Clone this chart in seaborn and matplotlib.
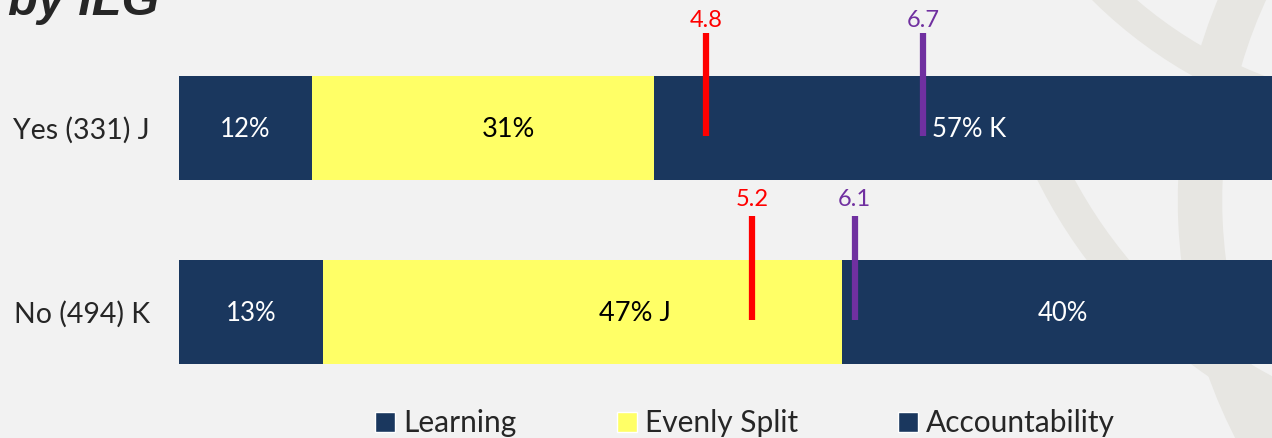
import matplotlib
matplotlib.use("Agg")
import matplotlib.pyplot as plt
from matplotlib.patches import Patch, Arc
import seaborn as sns
import pandas as pd

# data
categories = ["Yes (331) J", "No (494) K"]
learning = [12, 13]
evenly_split = [31, 47]
accountability = [57, 40]
learning_labels = ["12%", "13%"]
evenly_labels = ["31%", "47% J"]
account_labels = ["57% K", "40%"]
red_means = [4.8, 5.2]
purple_means = [6.7, 6.1]
legend_labels = ["Learning", "Evenly Split", "Accountability"]

NAVY = "#1a375e"
YELLOW = "#ffff66"
RED = "#ff0000"
PURPLE = "#7030a0"
BG = "#f2f2f2"
SWIRL = "#e7e6e2"

df = pd.DataFrame({"group": categories, "Learning": learning,
                   "Evenly Split": evenly_split, "Accountability": accountability})
df["cum1"] = df["Learning"]
df["cum2"] = df["cum1"] + df["Evenly Split"]
df["cum3"] = df["cum2"] + df["Accountability"]

sns.set_style("white")
plt.rcParams["font.family"] = ["Lato", "DejaVu Sans"]

W, H = 1272, 438
fig = plt.figure(figsize=(W / 100, H / 100), dpi=100, facecolor=BG)

# faint background swirls
bg = fig.add_axes([0, 0, 1, 1], zorder=0)
bg.set_xlim(0, W)
bg.set_ylim(H, 0)
bg.axis("off")
bg.add_patch(Arc((1420, -330), 900, 900, theta1=110, theta2=175, color=SWIRL, lw=22))
bg.add_patch(Arc((1500, -50), 1000, 1000, theta1=100, theta2=160, color=SWIRL, lw=24))
bg.add_patch(Arc((1700, 200), 1000, 1000, theta1=140, theta2=215, color=SWIRL, lw=32))

# stacked bars (cumulative, drawn largest first)
ax = fig.add_axes([179 / W, 0, 1 - 179 / W, 1], zorder=1)
ax.patch.set_alpha(0)
bar_h = 104 / 183.5
for col, c in [("cum3", NAVY), ("cum2", YELLOW), ("cum1", NAVY)]:
    sns.barplot(data=df, x=col, y="group", color=c, width=bar_h,
                saturation=1, linewidth=0, ax=ax, orient="h")

ax.set_xlim(0, (W - 179) / 11.05)
ax.set_ylim(1.689, -0.6975)

# segment labels
for i in range(len(categories)):
    ax.text(learning[i] / 2, i + 0.01, learning_labels[i], color="white",
            ha="center", va="center", fontsize=18.5)
    ax.text(df["cum1"][i] + evenly_split[i] / 2 + [2.3, 4.8][i], i + 0.01, evenly_labels[i],
            color="black", ha="center", va="center", fontsize=19.5)
    ax.text(df["cum2"][i] + accountability[i] / 2, i + 0.01, account_labels[i], color="white",
            ha="center", va="center", fontsize=18.5)

ax.set_xlabel("")
ax.set_ylabel("")
ax.set_xticks([])
ax.tick_params(axis="y", length=0, pad=21, labelsize=20.5)
sns.despine(ax=ax, left=True, bottom=True)

# mean score markers on a 0-10 scale
ax2 = ax.twiny()
ax2.set_xlim((179 - 158) / 114.2, (W - 158) / 114.2)
ax2.set_ylim(ax.get_ylim())
ax2.axis("off")
for i in range(len(categories)):
    for val, c in [(red_means[i], RED), (purple_means[i], PURPLE)]:
        ax2.vlines(val, i - 0.52, i + 0.045, color=c, lw=4.5)
        ax2.text(val, i - [0.585, 0.61][i], f"{val:.1f}", color=c, ha="center",
                 va="center", fontsize=17)

# title (cropped at top)
fig.text(8 / W, 1 - 15 / H, "by ILG", fontsize=35, fontweight="bold",
         fontstyle="italic", family="Liberation Sans", va="baseline")

# legend
handles = [Patch(facecolor=NAVY), Patch(facecolor=YELLOW), Patch(facecolor=NAVY)]
fig.legend(handles, legend_labels, loc="lower center", ncol=3,
           bbox_to_anchor=(745 / W, -0.06), frameon=False, fontsize=21.5,
           handlelength=0.67, handleheight=0.67, handletextpad=0.27,
           columnspacing=3.35)

fig.savefig("out.png", dpi=100, facecolor=BG)
